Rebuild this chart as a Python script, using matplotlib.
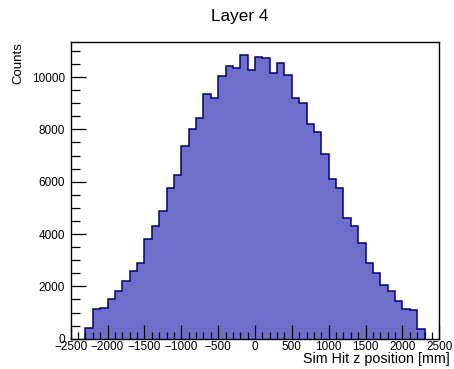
import numpy as np
import matplotlib
matplotlib.use("Agg")
import matplotlib.pyplot as plt
from matplotlib.ticker import MultipleLocator

# z positions of sim hits, 100 mm bins from -2300 to 2300
bin_edges = np.arange(-2300, 2301, 100)
counts = [420, 1135, 1160, 1505, 1840, 2200, 2600, 2880, 3825, 4310,
          4890, 5747, 6270, 7380, 8030, 8430, 9339, 9200, 10030, 10425,
          10356, 10829, 10255, 10760, 10726, 10150, 10524, 10060, 9192, 8995,
          8210, 7910, 7046, 6091, 5747, 4630, 4306, 3660, 2890, 2510,
          2070, 1840, 1445, 1130, 1097, 371]

plt.rcParams['font.family'] = ['Liberation Sans', 'DejaVu Sans']

fig = plt.figure(figsize=(4.54, 3.69), dpi=100)
ax = fig.add_axes([0.1557, 0.0821, 0.8119, 0.8049])

ax.stairs(counts, bin_edges, fill=True, facecolor='#6f6fc9', edgecolor='none')
ax.stairs(counts, bin_edges, fill=False, color='#000080', linewidth=1.1)

ax.set_xlim(-2500, 2500)
ax.set_ylim(0, 11350)

ax.xaxis.set_major_locator(MultipleLocator(500))
ax.xaxis.set_minor_locator(MultipleLocator(100))
ax.yaxis.set_major_locator(MultipleLocator(2000))
ax.yaxis.set_minor_locator(MultipleLocator(500))

ax.tick_params(axis='both', which='both', direction='in', top=False, right=False,
               labelsize=8.5, width=0.9)
ax.tick_params(axis='x', which='major', length=10, pad=1.5)
ax.tick_params(axis='x', which='minor', length=5)
ax.tick_params(axis='y', which='major', length=11, pad=4)
ax.tick_params(axis='y', which='minor', length=6.5)

for s in ax.spines.values():
    s.set_linewidth(1.0)

fig.text(0.527, 0.956, 'Layer 4', ha='center', va='center', fontsize=12.3)
fig.text(0.991, 0.016, 'Sim Hit z position [mm]', ha='right', va='baseline',
         fontsize=10.3)
fig.text(0.04, 0.887, 'Counts', ha='center', va='top', rotation=90,
         fontsize=9.5)

fig.savefig('out.png', dpi=100)
